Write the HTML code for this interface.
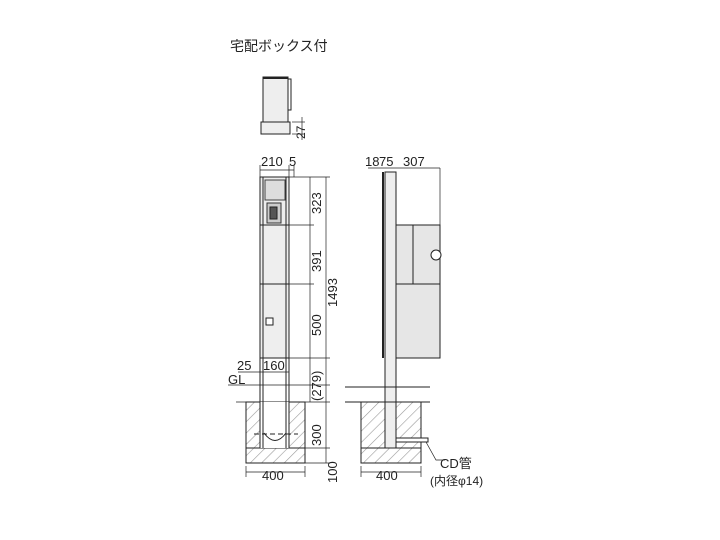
<!DOCTYPE html>
<html><head><meta charset="utf-8"><style>
body{margin:0;background:#fff;}
svg{display:block;font-family:"Liberation Sans","Noto Sans CJK JP",sans-serif;}
</style></head><body>
<svg width="720" height="540" viewBox="0 0 720 540" xmlns="http://www.w3.org/2000/svg">
<defs>
<pattern id="h" width="8" height="8" patternUnits="userSpaceOnUse" patternTransform="rotate(45)">
<line x1="0" y1="0" x2="0" y2="8" stroke="#999" stroke-width="1.2"/></pattern>
</defs>
<g fill="none" stroke="#222" stroke-width="1">
<rect x="263" y="77" width="25" height="55" fill="#eee"/>
<line x1="263" y1="78" x2="288" y2="78" stroke-width="2"/>
<polyline points="288,79 291,79 291,110 288,110"/>
<rect x="261" y="122" width="29" height="12" fill="#eee"/>
<line x1="292" y1="122" x2="305" y2="122" stroke-width="0.7"/>
<line x1="292" y1="134" x2="305" y2="134" stroke-width="0.7"/>
<line x1="302" y1="117" x2="302" y2="140" stroke-width="0.7"/>

<rect x="260" y="177" width="29" height="181" fill="#eee"/>
<line x1="263" y1="177" x2="263" y2="402"/>
<line x1="286" y1="177" x2="286" y2="402"/>
<line x1="260" y1="358" x2="260" y2="402"/>
<line x1="289" y1="358" x2="289" y2="402"/>
<line x1="260" y1="225" x2="289" y2="225"/>
<line x1="260" y1="284" x2="289" y2="284"/>
<rect x="265" y="180" width="20" height="20" fill="#ddd" stroke="#444"/>
<rect x="267" y="203" width="14" height="20" fill="#ccc" stroke="#333"/>
<rect x="270" y="207" width="7" height="12" fill="#555"/>
<rect x="266" y="318" width="7" height="7" fill="#fff"/>
<line x1="260" y1="170" x2="294" y2="170" stroke-width="0.7"/>
<line x1="260" y1="165" x2="260" y2="177" stroke-width="0.7"/>
<line x1="289" y1="165" x2="289" y2="177" stroke-width="0.7"/>
<line x1="294" y1="165" x2="294" y2="177" stroke-width="0.7"/>
<line x1="289" y1="177" x2="330" y2="177" stroke-width="0.7"/>
<line x1="289" y1="225" x2="314" y2="225" stroke-width="0.7"/>
<line x1="289" y1="284" x2="314" y2="284" stroke-width="0.7"/>
<line x1="289" y1="358" x2="330" y2="358" stroke-width="0.7"/>
<line x1="310" y1="177" x2="310" y2="402" stroke-width="0.7"/>
<line x1="326" y1="177" x2="326" y2="463" stroke-width="0.7"/>
<line x1="305" y1="448" x2="330" y2="448" stroke-width="0.7"/>
<line x1="305" y1="463" x2="330" y2="463" stroke-width="0.7"/>
<line x1="238" y1="372" x2="289" y2="372" stroke-width="0.7"/>
<line x1="228" y1="385" x2="330" y2="385" stroke-width="0.7"/>
<line x1="236" y1="402" x2="330" y2="402" stroke-width="0.7"/>
<rect x="246" y="402" width="59" height="46" fill="url(#h)"/>
<rect x="246" y="448" width="59" height="15" fill="url(#h)"/>
<rect x="260" y="402" width="29" height="46" fill="#fff" stroke="none"/>
<line x1="260" y1="402" x2="260" y2="448"/><line x1="289" y1="402" x2="289" y2="448"/>
<line x1="263" y1="402" x2="263" y2="448"/><line x1="286" y1="402" x2="286" y2="448"/>
<path d="M264,433 Q275,448 286,433" />
<line x1="254" y1="434" x2="298" y2="434" stroke-dasharray="5,3"/>
<line x1="246" y1="472" x2="305" y2="472" stroke-width="0.7"/>
<line x1="246" y1="466" x2="246" y2="477" stroke-width="0.7"/>
<line x1="305" y1="466" x2="305" y2="477" stroke-width="0.7"/>

<line x1="383" y1="172" x2="383" y2="358" stroke-width="2"/>
<rect x="385" y="172" width="11" height="273" fill="#eee"/>
<rect x="396" y="225" width="44" height="133" fill="#e6e6e6"/>
<line x1="413" y1="225" x2="413" y2="284"/>
<line x1="396" y1="284" x2="440" y2="284"/>
<line x1="440" y1="168" x2="440" y2="225" stroke-width="0.7"/>
<circle cx="436" cy="255" r="5" fill="#fff"/>
<line x1="368" y1="168" x2="440" y2="168" stroke-width="0.7"/>
<line x1="345" y1="387" x2="430" y2="387"/>
<line x1="345" y1="402" x2="430" y2="402"/>
<rect x="361" y="402" width="60" height="46" fill="url(#h)"/>
<rect x="361" y="448" width="60" height="15" fill="url(#h)"/>
<rect x="385" y="402" width="11" height="46" fill="#eee"/>
<rect x="396" y="438" width="32" height="4" fill="#fff"/>
<polyline points="426,442 436,460 445,460" stroke-width="0.7"/>
<line x1="361" y1="472" x2="421" y2="472" stroke-width="0.7"/>
<line x1="361" y1="466" x2="361" y2="477" stroke-width="0.7"/>
<line x1="421" y1="466" x2="421" y2="477" stroke-width="0.7"/>
</g>
<g fill="#222" font-size="13">
<text x="230" y="51" font-size="14">宅配ボックス付</text>
<text x="261" y="166">210</text><text x="289" y="166">5</text>
<text x="365" y="166">18</text><text x="379" y="166">75</text><text x="403" y="166">307</text>
<text x="237" y="370">25</text><text x="263" y="370">160</text>
<text x="228" y="384">GL</text>
<text x="262" y="480">400</text><text x="376" y="480">400</text>
<text x="440" y="468">CD管</text>
<text x="430" y="485" font-size="12">(内径φ14)</text>
<g transform="rotate(-90)">
<text x="-139" y="305" font-size="12">27</text>
<text x="-214" y="321">323</text>
<text x="-272" y="321">391</text>
<text x="-336" y="321">500</text>
<text x="-401" y="321">(279)</text>
<text x="-307" y="337">1493</text>
<text x="-446" y="321">300</text>
<text x="-483" y="337">100</text>
</g>
</g>
</svg>
</body></html>
